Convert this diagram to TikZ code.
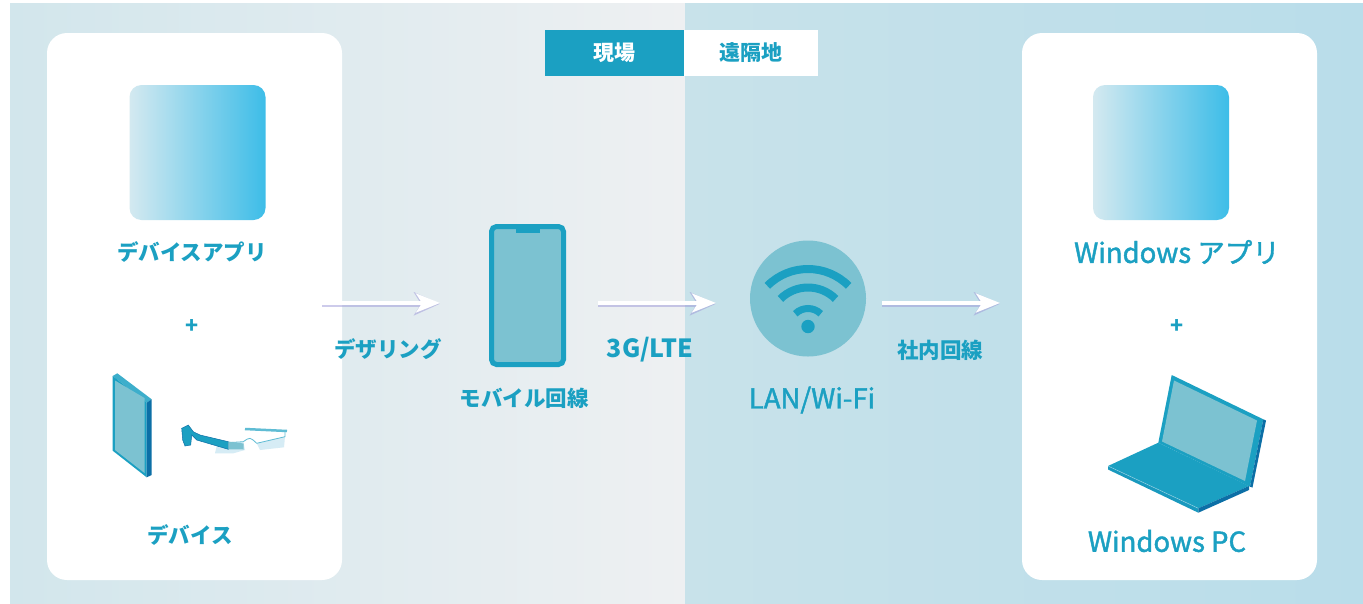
\documentclass[tikz,border=0pt]{standalone}
\usepackage{fontspec}
\setmainfont{Noto Sans CJK JP}
\newfontfamily\medfont{Noto Sans CJK JP}[FakeBold=1.5]
\usetikzlibrary{arrows.meta,calc,positioning}
\definecolor{brand}{HTML}{1BA0C2}
\definecolor{pale}{HTML}{7CC2D1}
\definecolor{deep}{HTML}{0C6FA6}
\definecolor{iconL}{HTML}{D4E9F0}
\definecolor{iconR}{HTML}{3DBDE8}
\definecolor{bgA}{HTML}{D2E6EC}
\definecolor{bgB}{HTML}{EEF0F2}
\definecolor{bgC}{HTML}{C8E2EA}
\definecolor{bgD}{HTML}{B9DDEA}
\definecolor{halo}{HTML}{9C98D8}
\definecolor{lens}{HTML}{D6ECF5}

\begin{document}
\begin{tikzpicture}[
  x=1pt, y=-1pt,
  card/.style={fill=white, rounded corners=20pt, minimum width=295pt,
               minimum height=547pt, inner sep=0pt},
  appicon/.style={rounded corners=12pt, left color=iconL, right color=iconR,
                  minimum width=136pt, minimum height=135pt, inner sep=0pt},
  tab/.style={minimum height=46pt, inner sep=0pt,
              font=\bfseries\fontsize{21}{24}\selectfont},
  jlabel/.style={text=brand, font=\bfseries\fontsize{21.5}{24}\selectfont},
  elabel/.style={text=brand, font=\medfont\fontsize{27.5}{30}\selectfont},
  flow/.style={draw=white, line width=3.5pt,
               -{Stealth[length=24pt,width=19pt,inset=6pt]},
               preaction={draw=halo, opacity=.5, line width=6.5pt,
                          -{Stealth[length=26pt,width=23pt,inset=7pt]},
                          transform canvas={yshift=-0.8pt}}},
  wave/.style={draw=brand, line width=8pt}
]
\useasboundingbox (0,0) rectangle (1363,603);
\fill[white] (0,0) rectangle (1363,603);

% two halves of the backdrop
\shade[left color=bgA, right color=bgB] (10,3) rectangle (685,603);
\shade[left color=bgC, right color=bgD] (685,3) rectangle (1363,603);

\node[tab, fill=brand, text=white, minimum width=139pt] (site) at (614.5,53) {現場};
\node[tab, fill=white, text=brand, minimum width=134pt, anchor=west] (remote) at (site.east) {遠隔地};

% on-site side
\node[card] (devcard) at (194.5,306.5) {};
\node[appicon] (devapp) at (197.5,152.5) {};
\node[jlabel] (devappname) at (192,252) {デバイスアプリ};
\node[jlabel] (devplus) at (192,327) {+};
\node[jlabel] (devname) at (190,535) {デバイス};

% tablet
\fill[brand!85!white] (112.7,376) -- (117.3,373.3) -- (151.7,399.3) -- (146.7,402.7) -- cycle;
\fill[brand] (112.7,376) -- (146.7,402.7) -- (146.7,477.3) -- (112.7,450.7) -- cycle;
\fill[pale] (115,380.5) -- (144.5,398) -- (144.5,473) -- (115,450) -- cycle;
\fill[deep] (146.7,402.7) -- (151.7,399.3) -- (151.7,475) -- (146.7,477.3) -- cycle;

% smart glasses
\fill[lens] (215,453.3) -- (217.3,443.3) -- (243.3,441.7) -- (245,450) -- (233.3,453.3) -- cycle;
\fill[lens] (256.7,443.3) -- (285,436.7) -- (284,447.3) -- (260,450) -- cycle;
\draw[brand!70!white, line width=.8pt] (217.3,443.3) -- (243.3,441.7)
  .. controls (250,437) .. (256.7,443.3) -- (285,436.7) -- (285,431);
\draw[brand!70!white, line width=2.5pt] (245,429) -- (287,431);
\fill[brand, draw=deep, line width=.5pt] (181.7,428.3) -- (188.3,425) -- (193.3,431.7) -- (200,435)
  -- (228.3,441.7) -- (228.3,449.3) -- (196.7,440) -- (191.7,435) -- (190.7,445)
  -- (185,446) -- (182.7,440) -- cycle;
\fill[pale] (228.3,441.5) -- (243.5,443.5) -- (243.5,449.5) -- (228.3,449.3) -- cycle;

% mobile router
\node[draw=brand, line width=5pt, fill=pale, rounded corners=5pt, minimum width=72pt,
      minimum height=138pt, inner sep=0pt] (phone) at (527.5,295.5) {};
\fill[brand] ([xshift=-12pt]phone.north) rectangle ([xshift=12pt,yshift=-9pt]phone.north);
\node[jlabel] (phonename) at (524,398) {モバイル回線};

% access point
\node[circle, fill=pale, minimum size=116pt, inner sep=0pt] (wifi) at (808,298.5) {};
\coordinate (wifidot) at ($(wifi.center)+(0,28)$);
\fill[brand] (wifidot) circle[radius=6.7];
\draw[wave, line width=7pt] ($(wifidot)+(-45:18)$) arc[start angle=-45, end angle=-135, radius=18];
\draw[wave] ($(wifidot)+(-45:39)$) arc[start angle=-45, end angle=-135, radius=39];
\draw[wave] ($(wifidot)+(-45:57.5)$) arc[start angle=-45, end angle=-135, radius=57.5];
\node[elabel] (wifiname) at (812,400) {LAN/Wi-Fi};

% remote side
\node[card] (wincard) at (1169.5,306.5) {};
\node[appicon] (winapp) at (1161,152.5) {};
\node[elabel] (winappname) at (1177,252) {Windows アプリ};
\node[jlabel] (winplus) at (1177,327) {+};
\node[elabel] (pcname) at (1167,541) {Windows PC};

% laptop
\fill[brand] (1171.7,375) -- (1263.3,419.3) -- (1250,486.7) -- (1158.3,442.7) -- cycle;
\fill[deep] (1263.3,419.3) -- (1266,420.5) -- (1252.5,487.5) -- (1250,486.7) -- cycle;
\fill[pale] (1174,380.5) -- (1257,420.5) -- (1245,481) -- (1162,441.5) -- cycle;
\fill[brand] (1158.3,442.7) -- (1249,486) -- (1198.3,508.3) -- (1108,466) -- cycle;
\fill[brand!85!deep] (1108,466) -- (1198.3,508.3) -- (1198.3,512.7) -- (1108,469.5) -- cycle;
\fill[deep] (1198.3,508.3) -- (1249,486) -- (1249,490) -- (1198.3,512.7) -- cycle;
\draw[white, opacity=.4, line width=.6pt] (1108,466) -- (1198.3,508.3);

% links
\coordinate (tetherA) at (322,303);
\coordinate (tetherB) at (440,303);
\coordinate (lteA) at (598,303);
\coordinate (lteB) at (716,303);
\coordinate (lanA) at (882,303);
\coordinate (lanB) at (1000,303);
\draw[flow] (tetherA) -- (tetherB);
\draw[flow] (lteA) -- (lteB);
\draw[flow] (lanA) -- (lanB);
\node[jlabel] (tethername) at (388,349) {デザリング};
\node[jlabel, font=\bfseries\fontsize{25}{28}\selectfont] (ltename) at (650,350) {3G/LTE};
\node[jlabel] (lanname) at (940,350) {社内回線};
\end{tikzpicture}
\end{document}
